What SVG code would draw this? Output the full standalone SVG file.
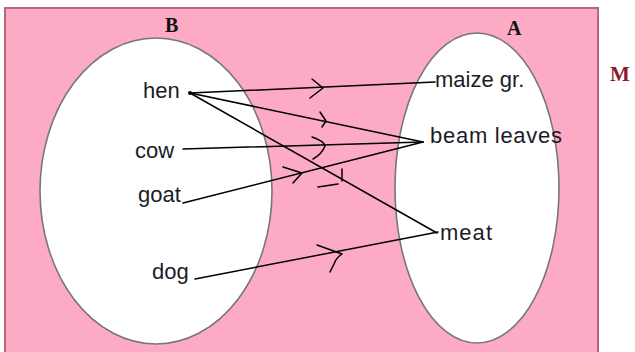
<svg xmlns="http://www.w3.org/2000/svg" width="635" height="352" viewBox="0 0 635 352">
<style>
.lbl{font-family:"Liberation Sans",Arial,sans-serif;font-size:22px;fill:#1c1c28}
.set{font-family:"Liberation Serif","Times New Roman",serif;font-size:20px;font-weight:bold;fill:#111}
.ell{fill:#fff;stroke:#777;stroke-width:1.6}
.ln{stroke:#000;stroke-width:1.5;fill:none;stroke-linecap:round;stroke-linejoin:round}
</style>
<rect x="0" y="0" width="635" height="352" fill="#fff"/>
<rect id="universe" x="5" y="8" width="593" height="350" fill="#fdaac5" stroke="#b8667a" stroke-width="2"/>
<text x="610" y="81" font-family="Liberation Serif,serif" font-size="21" font-weight="bold" fill="#8b1c2c">M</text>
<g id="setB">
<ellipse class="ell" cx="156" cy="191" rx="116" ry="153"/>
<text class="set" x="165" y="32">B</text>
</g>
<g id="setA">
<ellipse class="ell" cx="477" cy="188" rx="82" ry="155"/>
<text class="set" x="507" y="35">A</text>
</g>
<g id="connectors">
<path class="ln" d="M190 93 L435 82"/>
<path class="ln" d="M312 79 L323 88 L310 98"/>
<path class="ln" d="M190 93 L423 142"/>
<path class="ln" d="M320 112 L326 121 L322 127"/>
<path class="ln" d="M190 93 L437 233"/>
<path class="ln" d="M342 169 L342 181 M318 187 L338 184"/>
<path class="ln" d="M183 149 L423 142"/>
<path class="ln" d="M312 137 Q324 141 325 146 Q322 154 313 159"/>
<path class="ln" d="M183 203 L423 142"/>
<path class="ln" d="M283 167 L302 173 L293 183"/>
<path class="ln" d="M195 279 L438 232"/>
<path class="ln" d="M317 245 L342 254 Q336 258 334 264 L330 272"/>
<circle cx="190" cy="93" r="2" fill="#000"/>
</g>
<g id="hen"><text class="lbl" x="143" y="98">hen</text></g>
<g id="cow"><text class="lbl" x="135" y="158">cow</text></g>
<g id="goat"><text class="lbl" x="138" y="202">goat</text></g>
<g id="dog"><text class="lbl" x="152" y="279">dog</text></g>
<g id="maize"><text class="lbl" x="435" y="87">maize gr.</text></g>
<g id="beam"><text class="lbl" x="430" y="143" textLength="132">beam leaves</text></g>
<g id="meat"><text class="lbl" x="440" y="240" textLength="52">meat</text></g>
</svg>
